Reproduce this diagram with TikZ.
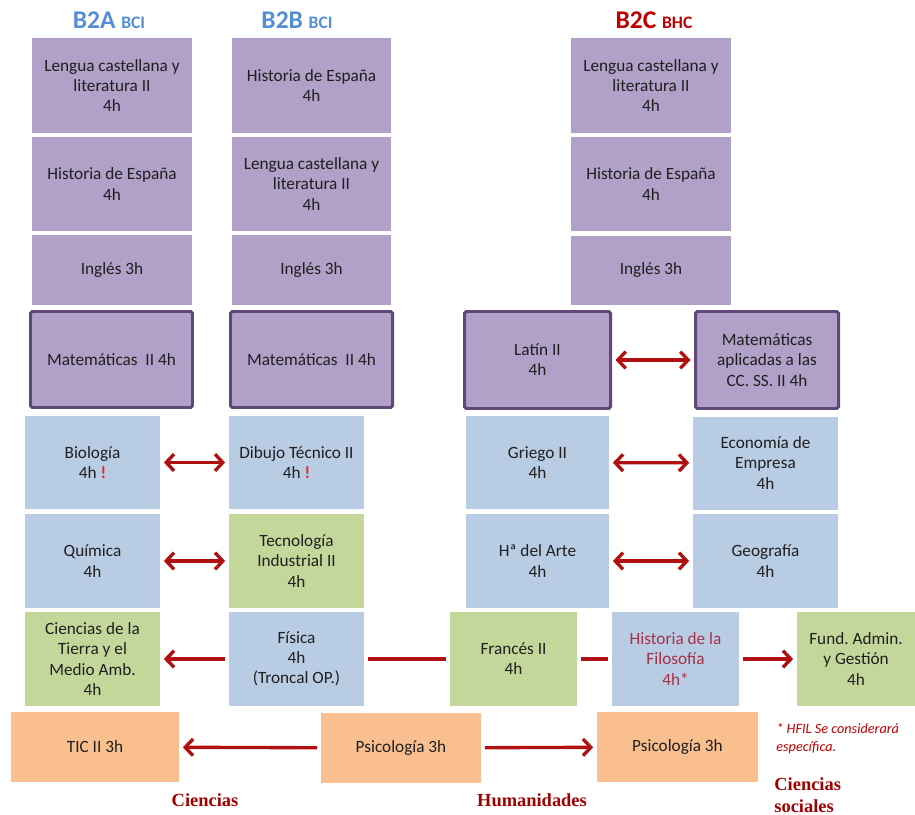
\documentclass[tikz,border=0pt]{standalone}
\usepackage{fontspec}
\setmainfont{Carlito}
\newfontfamily\areafont{Liberation Serif}
\usetikzlibrary{arrows.meta}
\definecolor{lila}{RGB}{177,160,199}
\definecolor{lilaline}{RGB}{96,73,122}
\definecolor{celeste}{RGB}{184,204,228}
\definecolor{verde}{RGB}{196,215,155}
\definecolor{naranja}{RGB}{250,191,143}
\definecolor{rojo}{RGB}{176,16,16}
\definecolor{azulhead}{RGB}{85,142,213}
\definecolor{rojohead}{RGB}{192,0,0}
\definecolor{excl}{RGB}{225,40,55}
\definecolor{hfil}{RGB}{168,48,72}

\begin{document}
\begin{tikzpicture}
[x=0.02cm,y=-0.02cm,
 >={Straight Barb[length=4.5pt,width=9.5pt]},
 sz/.style 2 args={minimum width=#1*0.02cm,minimum height=#2*0.02cm},
 box/.style={inner sep=0pt,align=center,text=black!88,font=\fontsize{9.8}{11.5}\selectfont},
 core/.style={box,fill=lila},
 troncal/.style={box,fill=lila,draw=lilaline,line width=1.7pt,rounded corners=1pt},
 espec/.style={box,fill=celeste},
 opcion/.style={box,fill=verde},
 libre/.style={box,fill=naranja},
 link/.style={draw=rojo,line width=1.9pt,shorten <=2pt,shorten >=2pt},
 head/.style={font=\fontsize{14.5}{16}\selectfont\bfseries},
 area/.style={text=rojohead!85!black,font=\areafont\fontsize{10.5}{12.5}\selectfont\bfseries},
 note/.style={text=rojohead,font=\fontsize{8.1}{9.8}\selectfont\itshape}]
\useasboundingbox (0,0) rectangle (915,814);

% cabeceras
\node[head,text=azulhead] (ha) at (109,20) {B2A {\fontsize{10}{12}\selectfont BCI}};
\node[head,text=azulhead] (hb) at (297,20) {B2B {\fontsize{10}{12}\selectfont BCI}};
\node[head,text=rojohead] (hc) at (654,20) {B2C {\fontsize{10}{12}\selectfont BHC}};

% comunes
\node[core,sz={160}{95}] (a1) at (112,85.5) {Lengua castellana y\\literatura II\\4h};
\node[core,sz={160}{94}] (a2) at (112,184) {Historia de España\\4h};
\node[core,sz={160}{70}] (a3) at (112,270) {Inglés 3h};
\node[core,sz={159}{95}] (b1) at (311.5,85.5) {Historia de España\\4h};
\node[core,sz={159}{94}] (b2) at (311.5,184) {Lengua castellana y\\literatura II\\4h};
\node[core,sz={159}{70}] (b3) at (311.5,270) {Inglés 3h};
\node[core,sz={160}{95}] (c1) at (651,85.5) {Lengua castellana y\\literatura II\\4h};
\node[core,sz={160}{94}] (c2) at (651,184) {Historia de España\\4h};
\node[core,sz={160}{69}] (c3) at (651,270.5) {Inglés 3h};

% troncales de modalidad
\node[troncal,sz={162}{96}] (a4) at (111.5,359.5) {Matemáticas\ \ II 4h};
\node[troncal,sz={162}{96}] (b4) at (311.5,359.5) {Matemáticas\ \ II 4h};
\node[troncal,sz={146}{97}] (c4) at (537.5,360) {Latín II\\4h};
\node[troncal,sz={143}{97}] (d4) at (767,360) {Matemáticas\\aplicadas a las\\CC. SS. II 4h};

% especificas
\node[espec,sz={135}{93}] (a5) at (92.5,462.5) {Biología\\4h {\color{excl}\textbf{!}}};
\node[espec,sz={135}{93}] (b5) at (296.5,462.5) {Dibujo Técnico II\\4h {\color{excl}\textbf{!}}};
\node[espec,sz={143}{93}] (c5) at (537.5,462.5) {Griego II\\4h};
\node[espec,sz={145}{93}] (d5) at (765.5,463) {Economía de\\Empresa\\4h};

\node[espec,sz={135}{94}] (a6) at (92.5,561) {Química\\4h};
\node[opcion,sz={135}{94}] (b6) at (296.5,561) {Tecnología\\Industrial II\\4h};
\node[espec,sz={143}{94}] (c6) at (537.5,561) {Hª del Arte\\4h};
\node[espec,sz={145}{94}] (d6) at (765.5,561) {Geografía\\4h};

\node[opcion,sz={135}{94}] (a7) at (92.5,659) {Ciencias de la\\Tierra y el\\Medio\ Amb.\\4h};
\node[espec,sz={135}{94}] (b7) at (296.5,659) {Física\\4h\\(Troncal OP.)};
\node[opcion,sz={127}{94}] (c7) at (513.5,659) {Francés II\\4h};
\node[espec,sz={127}{94},text=hfil] (d7) at (675.5,659) {Historia de la\\Filosofía\\4h*};
\node[opcion,sz={118}{94}] (e7) at (856,659) {Fund.\ Admin.\\y Gestión\\4h};

% libre configuracion
\node[libre,sz={168}{70}] (a8) at (95,747) {TIC II 3h};
\node[libre,sz={160}{70}] (b8) at (401,748) {Psicología 3h};
\node[libre,sz={161}{70}] (c8) at (677.5,747) {Psicología 3h};

\draw[link,<->] (a5) -- (b5);
\draw[link,<->] (a6) -- (b6);
\draw[link,<->] (c4) -- (d4);
\draw[link,<->] (c5) -- (d5);
\draw[link,<->] (c6) -- (d6);
\draw[link,->] (b7) -- (a7);
\draw[link] (b7) -- (c7);
\draw[link] (c7) -- (d7);
\draw[link,->] (d7) -- (e7);
\draw[link,->] (b8) -- (a8);
\draw[link,->] (b8) -- (c8);

\node[note,anchor=west,align=left,inner sep=0pt] (nt) at (776,738.5) {* HFIL Se considerará\\específica.};
\node[area] (la) at (205,800) {Ciencias};
\node[area] (lb) at (532,800) {Humanidades};
\node[area,anchor=west,align=left,inner sep=0pt] (lc) at (774,795) {Ciencias\\sociales};
\end{tikzpicture}
\end{document}
